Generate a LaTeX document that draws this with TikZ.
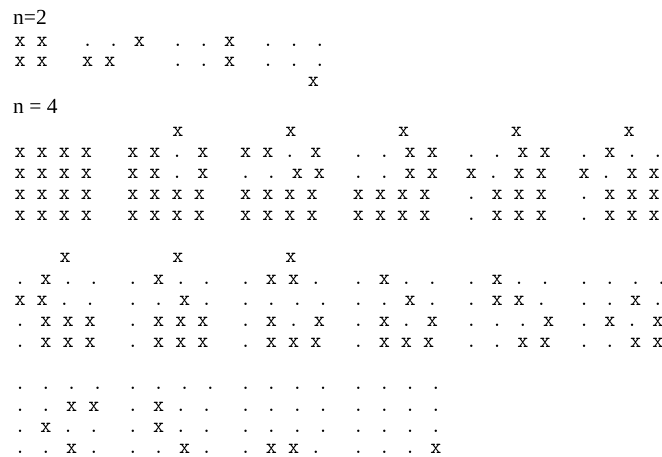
\documentclass[tikz,border=0pt]{standalone}
\usepackage{fontspec}
\setmainfont{Liberation Serif}
\usepackage{tikz}

% one row of a board per node, k = character column, #3 = baseline of first row
\newcommand{\putrows}[4]{%
  \foreach \r [count=\i] in {#4}
    \node[cell] (#1-\i) at ({14.36+11.28*#2}, {#3+\pitch*(\i-1)}) {\r};
}
\newcommand{\putx}[3]{%
  \node[cell] (#1-top) at ({14.36+11.28*#2}, #3) {x};
}

\begin{document}
\begin{tikzpicture}[x=1pt, y=-1pt,
    cell/.style={font=\fontsize{21.5}{21.15}\selectfont\ttfamily,
        inner sep=0pt, anchor=base west},
    nlabel/.style={font=\fontsize{21.5}{24}\selectfont,
        inner sep=0pt, anchor=base west}
]
    \useasboundingbox (0,0) rectangle (662,457);

    % n = 2
    \node[nlabel] (two) at (13,24.5) {n=2};
    \def\pitch{20.3}
    \putrows{b1}{0}{46.3}{x x, x x}
    \putrows{b2}{6}{46.3}{. . x, x x}
    \putrows{b3}{14}{46.3}{. . x, . . x}
    \putrows{b4}{22}{46.3}{. . ., . . .}
    \putx{b4}{26}{86.9}

    % n = 4
    \node[nlabel] (four) at (13,113.5) {n = 4};
    \def\pitch{21.15}

    % first block
    \putrows{a1}{0}{157.25}{x x x x, x x x x, x x x x, x x x x}
    \putx{a2}{14}{136.1}
    \putrows{a2}{10}{157.25}{x x . x, x x . x, x x x x, x x x x}
    \putx{a3}{24}{136.1}
    \putrows{a3}{20}{157.25}{x x . x, . . x x, x x x x, x x x x}
    \putx{a4}{34}{136.1}
    \putrows{a4}{30}{157.25}{. . x x, . . x x, x x x x, x x x x}
    \putx{a5}{44}{136.1}
    \putrows{a5}{40}{157.25}{. . x x, x . x x, . x x x, . x x x}
    \putx{a6}{54}{136.1}
    \putrows{a6}{50}{157.25}{. x . ., x . x x, . x x x, . x x x}

    % second block
    \putx{c1}{4}{263}
    \putrows{c1}{0}{284.15}{. x . ., x x . ., . x x x, . x x x}
    \putx{c2}{14}{263}
    \putrows{c2}{10}{284.15}{. x . ., . . x ., . x x x, . x x x}
    \putx{c3}{24}{263}
    \putrows{c3}{20}{284.15}{. x x ., . . . ., . x . x, . x x x}
    \putrows{c4}{30}{284.15}{. x . ., . . x ., . x . x, . x x x}
    \putrows{c5}{40}{284.15}{. x . ., . x x ., . . . x, . . x x}
    \putrows{c6}{50}{284.15}{. . . ., . . x ., . x . x, . . x x}

    % third block
    \putrows{d1}{0}{389.9}{. . . ., . . x x, . x . ., . . x .}
    \putrows{d2}{10}{389.9}{. . . ., . x . ., . x . ., . . x .}
    \putrows{d3}{20}{389.9}{. . . ., . . . ., . . . ., . x x .}
    \putrows{d4}{30}{389.9}{. . . ., . . . ., . . . ., . . . x}
\end{tikzpicture}
\end{document}
